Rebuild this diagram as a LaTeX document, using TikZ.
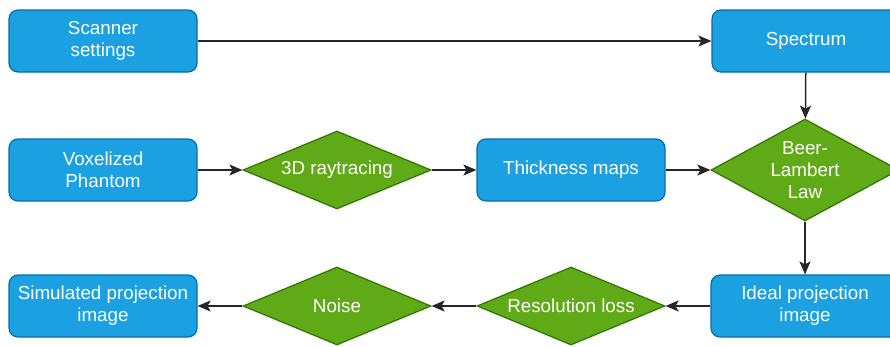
\documentclass[tikz,border=0pt]{standalone}
\usepackage{fontspec}
\setmainfont{Liberation Sans}
\usetikzlibrary{shapes.geometric, arrows.meta, positioning}
\definecolor{boxblue}{HTML}{1BA1E2}
\definecolor{boxborder}{HTML}{006EAF}
\definecolor{diagreen}{HTML}{60A917}
\definecolor{diaborder}{HTML}{2D7600}
\tikzstyle{process} = [rectangle, rounded corners=9pt, minimum width=188pt, minimum height=62pt, align=center, draw=boxborder, fill=boxblue, text=white, line width=1.2pt]
\tikzstyle{decision} = [diamond, aspect=2.4, inner sep=0pt, minimum width=188pt, minimum height=78pt, align=center, draw=diaborder, fill=diagreen, text=white, line width=1.2pt]
\tikzstyle{arrow} = [line width=1.5pt, draw=black!85, -{Stealth[length=13pt, width=11pt, inset=3pt]}]

\begin{document}
\begin{tikzpicture}[node distance=129pt and 234pt, on grid, font=\fontsize{18.8}{22}\selectfont]
\useasboundingbox (0,0) rectangle (890pt,-346pt);
\node (scanner) [process] at (103pt,-41pt) {Scanner\\settings};
\node (spectrum) [process, right=703pt of scanner] {Spectrum};
\node (phantom) [process, below=of scanner] {Voxelized\\Phantom};
\node (raytrace) [decision, right=of phantom] {3D raytracing};
\node (thickness) [process, right=of raytrace] {Thickness maps};
\node (beerLambert) [decision, aspect=1.8, minimum height=102pt, right=of thickness] {Beer-\\Lambert\\Law};
\node (ideal) [process, below=136pt of beerLambert] {Ideal projection\\image};
\node (resolution) [decision, left=of ideal] {Resolution loss};
\node (noise) [decision, left=of resolution] {Noise};
\node (simulated) [process, left=of noise] {Simulated projection\\image};

\draw [arrow] (scanner) -- (spectrum);
\draw [arrow] (spectrum) -- (beerLambert);
\draw [arrow] (phantom) -- (raytrace);
\draw [arrow] (raytrace) -- (thickness);
\draw [arrow] (thickness) -- (beerLambert);
\draw [arrow] (beerLambert) -- (ideal);
\draw [arrow] (ideal) -- (resolution);
\draw [arrow] (resolution) -- (noise);
\draw [arrow] (noise) -- (simulated);
\end{tikzpicture}
\end{document}
